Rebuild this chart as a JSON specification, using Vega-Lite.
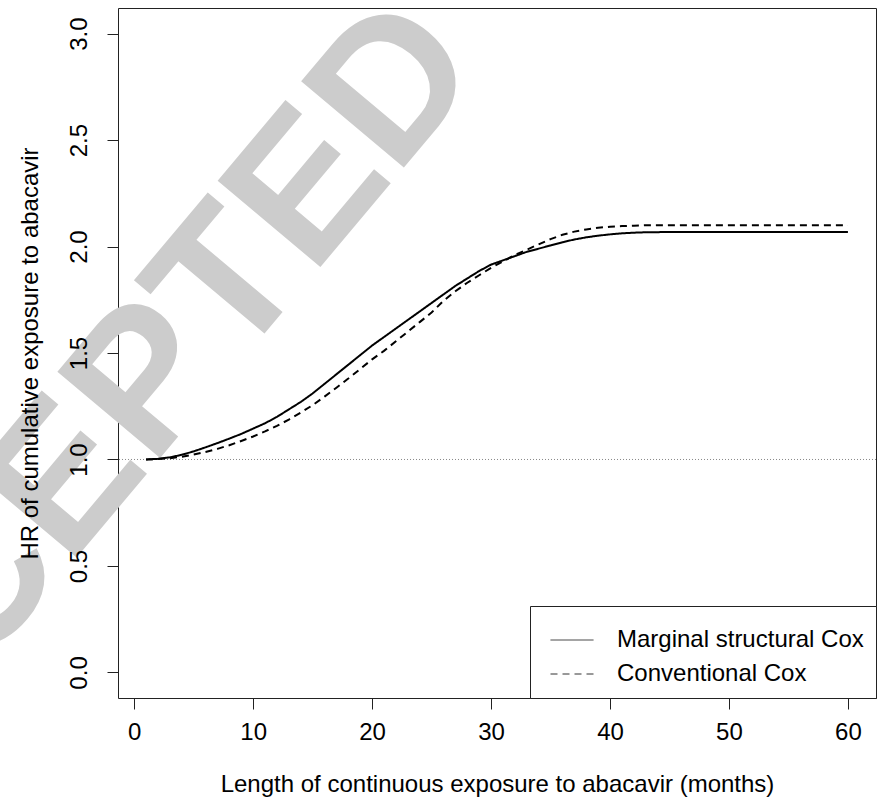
{
  "$schema": "https://vega.github.io/schema/vega-lite/v6.json",
  "width": 758,
  "height": 690,
  "autosize": {"type": "none"},
  "padding": {"left": 118, "top": 8, "right": 1, "bottom": 101},
  "background": "white",
  "config": {
    "font": "Liberation Sans",
    "view": {"stroke": "#222222", "strokeWidth": 1},
    "axis": {
      "grid": false,
      "domain": false,
      "ticks": true,
      "tickSize": 11,
      "tickColor": "#222222",
      "tickWidth": 1,
      "labelFontSize": 24,
      "labelColor": "black",
      "titleFontSize": 24,
      "titleFontWeight": "normal",
      "titleColor": "black"
    }
  },
  "datasets": {
    "curves": [
      {"month": 1, "hr": 1.0, "model": "Marginal structural Cox"},
      {"month": 2, "hr": 1.003, "model": "Marginal structural Cox"},
      {"month": 3, "hr": 1.01, "model": "Marginal structural Cox"},
      {"month": 4, "hr": 1.022, "model": "Marginal structural Cox"},
      {"month": 5, "hr": 1.038, "model": "Marginal structural Cox"},
      {"month": 6, "hr": 1.057, "model": "Marginal structural Cox"},
      {"month": 7, "hr": 1.077, "model": "Marginal structural Cox"},
      {"month": 8, "hr": 1.098, "model": "Marginal structural Cox"},
      {"month": 9, "hr": 1.12, "model": "Marginal structural Cox"},
      {"month": 10, "hr": 1.145, "model": "Marginal structural Cox"},
      {"month": 11, "hr": 1.17, "model": "Marginal structural Cox"},
      {"month": 12, "hr": 1.2, "model": "Marginal structural Cox"},
      {"month": 13, "hr": 1.235, "model": "Marginal structural Cox"},
      {"month": 14, "hr": 1.27, "model": "Marginal structural Cox"},
      {"month": 15, "hr": 1.31, "model": "Marginal structural Cox"},
      {"month": 16, "hr": 1.355, "model": "Marginal structural Cox"},
      {"month": 17, "hr": 1.4, "model": "Marginal structural Cox"},
      {"month": 18, "hr": 1.445, "model": "Marginal structural Cox"},
      {"month": 19, "hr": 1.49, "model": "Marginal structural Cox"},
      {"month": 20, "hr": 1.535, "model": "Marginal structural Cox"},
      {"month": 21, "hr": 1.575, "model": "Marginal structural Cox"},
      {"month": 22, "hr": 1.615, "model": "Marginal structural Cox"},
      {"month": 23, "hr": 1.655, "model": "Marginal structural Cox"},
      {"month": 24, "hr": 1.695, "model": "Marginal structural Cox"},
      {"month": 25, "hr": 1.735, "model": "Marginal structural Cox"},
      {"month": 26, "hr": 1.775, "model": "Marginal structural Cox"},
      {"month": 27, "hr": 1.815, "model": "Marginal structural Cox"},
      {"month": 28, "hr": 1.85, "model": "Marginal structural Cox"},
      {"month": 29, "hr": 1.885, "model": "Marginal structural Cox"},
      {"month": 30, "hr": 1.915, "model": "Marginal structural Cox"},
      {"month": 31, "hr": 1.935, "model": "Marginal structural Cox"},
      {"month": 32, "hr": 1.955, "model": "Marginal structural Cox"},
      {"month": 33, "hr": 1.975, "model": "Marginal structural Cox"},
      {"month": 34, "hr": 1.99, "model": "Marginal structural Cox"},
      {"month": 35, "hr": 2.005, "model": "Marginal structural Cox"},
      {"month": 36, "hr": 2.02, "model": "Marginal structural Cox"},
      {"month": 37, "hr": 2.033, "model": "Marginal structural Cox"},
      {"month": 38, "hr": 2.043, "model": "Marginal structural Cox"},
      {"month": 39, "hr": 2.051, "model": "Marginal structural Cox"},
      {"month": 40, "hr": 2.057, "model": "Marginal structural Cox"},
      {"month": 41, "hr": 2.062, "model": "Marginal structural Cox"},
      {"month": 42, "hr": 2.065, "model": "Marginal structural Cox"},
      {"month": 43, "hr": 2.067, "model": "Marginal structural Cox"},
      {"month": 45, "hr": 2.068, "model": "Marginal structural Cox"},
      {"month": 50, "hr": 2.068, "model": "Marginal structural Cox"},
      {"month": 55, "hr": 2.068, "model": "Marginal structural Cox"},
      {"month": 60, "hr": 2.068, "model": "Marginal structural Cox"},
      {"month": 1, "hr": 1.0, "model": "Conventional Cox"},
      {"month": 2, "hr": 1.002, "model": "Conventional Cox"},
      {"month": 3, "hr": 1.006, "model": "Conventional Cox"},
      {"month": 4, "hr": 1.013, "model": "Conventional Cox"},
      {"month": 5, "hr": 1.023, "model": "Conventional Cox"},
      {"month": 6, "hr": 1.035, "model": "Conventional Cox"},
      {"month": 7, "hr": 1.05, "model": "Conventional Cox"},
      {"month": 8, "hr": 1.067, "model": "Conventional Cox"},
      {"month": 9, "hr": 1.087, "model": "Conventional Cox"},
      {"month": 10, "hr": 1.108, "model": "Conventional Cox"},
      {"month": 11, "hr": 1.132, "model": "Conventional Cox"},
      {"month": 12, "hr": 1.158, "model": "Conventional Cox"},
      {"month": 13, "hr": 1.187, "model": "Conventional Cox"},
      {"month": 14, "hr": 1.22, "model": "Conventional Cox"},
      {"month": 15, "hr": 1.255, "model": "Conventional Cox"},
      {"month": 16, "hr": 1.295, "model": "Conventional Cox"},
      {"month": 17, "hr": 1.337, "model": "Conventional Cox"},
      {"month": 18, "hr": 1.38, "model": "Conventional Cox"},
      {"month": 19, "hr": 1.425, "model": "Conventional Cox"},
      {"month": 20, "hr": 1.47, "model": "Conventional Cox"},
      {"month": 21, "hr": 1.51, "model": "Conventional Cox"},
      {"month": 22, "hr": 1.555, "model": "Conventional Cox"},
      {"month": 23, "hr": 1.6, "model": "Conventional Cox"},
      {"month": 24, "hr": 1.645, "model": "Conventional Cox"},
      {"month": 25, "hr": 1.69, "model": "Conventional Cox"},
      {"month": 26, "hr": 1.745, "model": "Conventional Cox"},
      {"month": 27, "hr": 1.79, "model": "Conventional Cox"},
      {"month": 28, "hr": 1.83, "model": "Conventional Cox"},
      {"month": 29, "hr": 1.865, "model": "Conventional Cox"},
      {"month": 30, "hr": 1.9, "model": "Conventional Cox"},
      {"month": 31, "hr": 1.93, "model": "Conventional Cox"},
      {"month": 32, "hr": 1.96, "model": "Conventional Cox"},
      {"month": 33, "hr": 1.985, "model": "Conventional Cox"},
      {"month": 34, "hr": 2.01, "model": "Conventional Cox"},
      {"month": 35, "hr": 2.035, "model": "Conventional Cox"},
      {"month": 36, "hr": 2.055, "model": "Conventional Cox"},
      {"month": 37, "hr": 2.07, "model": "Conventional Cox"},
      {"month": 38, "hr": 2.08, "model": "Conventional Cox"},
      {"month": 39, "hr": 2.088, "model": "Conventional Cox"},
      {"month": 40, "hr": 2.093, "model": "Conventional Cox"},
      {"month": 41, "hr": 2.096, "model": "Conventional Cox"},
      {"month": 42, "hr": 2.098, "model": "Conventional Cox"},
      {"month": 43, "hr": 2.1, "model": "Conventional Cox"},
      {"month": 45, "hr": 2.1, "model": "Conventional Cox"},
      {"month": 50, "hr": 2.1, "model": "Conventional Cox"},
      {"month": 55, "hr": 2.1, "model": "Conventional Cox"},
      {"month": 60, "hr": 2.1, "model": "Conventional Cox"}
    ]
  },
  "layer": [
    {
      "data": {"values": [{"label": "ACCEPTED"}]},
      "mark": {"type": "text", "angle": -50, "fontSize": 195, "fontWeight": "bold", "color": "#cccccc", "align": "center", "baseline": "middle"},
      "encoding": {
        "x": {"datum": -3.2, "type": "quantitative"},
        "y": {"datum": 1.08, "type": "quantitative"},
        "text": {"field": "label"}
      }
    },
    {
      "data": {"values": [{"ref": 1}]},
      "mark": {"type": "rule", "color": "#888888", "strokeWidth": 1, "strokeDash": [1, 2]},
      "encoding": {"y": {"field": "ref", "type": "quantitative"}}
    },
    {
      "data": {"name": "curves"},
      "mark": {"type": "line", "color": "black", "strokeWidth": 2},
      "encoding": {
        "x": {
          "field": "month", "type": "quantitative",
          "scale": {"domain": [-1.36, 62.36], "nice": false, "zero": false},
          "axis": {"values": [0, 10, 20, 30, 40, 50, 60], "title": "Length of continuous exposure to abacavir (months)", "labelPadding": 11, "titlePadding": 28, "zindex": 1}
        },
        "y": {
          "field": "hr", "type": "quantitative",
          "scale": {"domain": [-0.12, 3.12], "nice": false, "zero": false},
          "axis": {"values": [0, 0.5, 1, 1.5, 2, 2.5, 3], "format": ".1f", "labelAngle": -90, "labelAlign": "center", "labelBaseline": "bottom", "labelPadding": 16, "title": "HR of cumulative exposure to abacavir", "titlePadding": 25, "zindex": 1}
        },
        "strokeDash": {
          "field": "model", "type": "nominal",
          "scale": {"domain": ["Marginal structural Cox", "Conventional Cox"], "range": [[1, 0], [7, 5]]},
          "legend": {
            "orient": "bottom-right", "offset": 0, "title": null,
            "symbolType": "stroke", "symbolSize": 1849, "symbolStrokeWidth": 1, "symbolStrokeColor": "#333333",
            "labelFontSize": 24, "labelColor": "black", "labelOffset": 23, "labelLimit": 0, "symbolOffset": 8,
            "padding": 12, "rowPadding": -21,
            "strokeColor": "#222222", "fillColor": "white", "cornerRadius": 0
          }
        }
      }
    }
  ]
}
